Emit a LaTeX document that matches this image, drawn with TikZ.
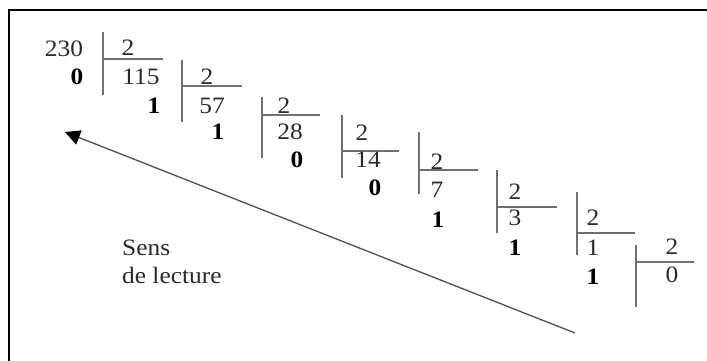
\documentclass[tikz,border=0pt]{standalone}
\usepackage{fontspec}
\setmainfont{Liberation Serif}[FakeStretch=1.08]
\usetikzlibrary{arrows.meta}
\definecolor{txt}{HTML}{2A2A2A}
\definecolor{bar}{HTML}{707070}
\definecolor{arr}{HTML}{505050}
\begin{document}
\begin{tikzpicture}[x=1pt,y=-1pt,
  num/.style={inner sep=0pt,text=txt,font=\fontsize{23.5}{27}\selectfont},
  rem/.style={inner sep=0pt,text=black,font=\fontsize{23.5}{27}\selectfont\bfseries},
  lbl/.style={inner sep=0pt,text=txt,anchor=base west,font=\fontsize{23.5}{27}\selectfont},
  divline/.style={draw=bar,line width=1.9pt},
  readarrow/.style={draw=arr,line width=1.3pt,-{Triangle[length=15pt,width=15pt,fill=black,color=black]}}]
\useasboundingbox (0,0) rectangle (707,360);
\fill[white] (0,0) rectangle (707,360);
% frame
\draw[black,line width=1.5pt] (9,362) -- (9,10) -- (709,10);
% division lines: bar x, top, bottom ; horizontal y, end x
\foreach \bx/\bt/\bb/\hy/\hx in {103/32/95/59/163, 182/60/122/86/242, 262/97/158/115/320,
  342/115/178/151/399, 419/132/194/170/478, 497/170/233/207/557,
  577/192/255/233/635, 636/245/307/262/694}{
  \draw[divline] (\bx,\bt) -- (\bx,\bb);
  \draw[divline] (\bx,\hy) -- (\hx,\hy);
}
% numbers
\node[num] (n230) at (64,49) {230};
\node[num] (d1) at (128,48) {2};
\node[rem] (r1) at (77,77) {0};
\node[num] (n115) at (141,77) {115};
\node[num] (d2) at (207,77) {2};
\node[rem] (r2) at (154,106) {1};
\node[num] (n57) at (212,106) {57};
\node[num] (d3) at (284,106) {2};
\node[rem] (r3) at (218,132) {1};
\node[num] (n28) at (290,132) {28};
\node[rem] (r4) at (297,160) {0};
\node[num] (d4) at (362,133) {2};
\node[num] (n14) at (368,160) {14};
\node[rem] (r5) at (375,188) {0};
\node[num] (d5) at (437,162) {2};
\node[num] (n7) at (437,190) {7};
\node[rem] (r6) at (438,220) {1};
\node[num] (d6) at (515,192) {2};
\node[num] (n3) at (515,218) {3};
\node[rem] (r7) at (515,248) {1};
\node[num] (d7) at (593,218) {2};
\node[num] (n1) at (593,248) {1};
\node[rem] (r8) at (593,277) {1};
\node[num] (d8) at (672,247) {2};
\node[num] (n0) at (672,275) {0};
% reading direction
\node[lbl] (sens) at (122,255.5) {Sens};
\node[lbl] (lect) at (122,283) {de lecture};
\coordinate (astart) at (575,333);
\coordinate (aend) at (65,132);
\draw[readarrow] (astart) -- (aend);
\end{tikzpicture}
\end{document}
